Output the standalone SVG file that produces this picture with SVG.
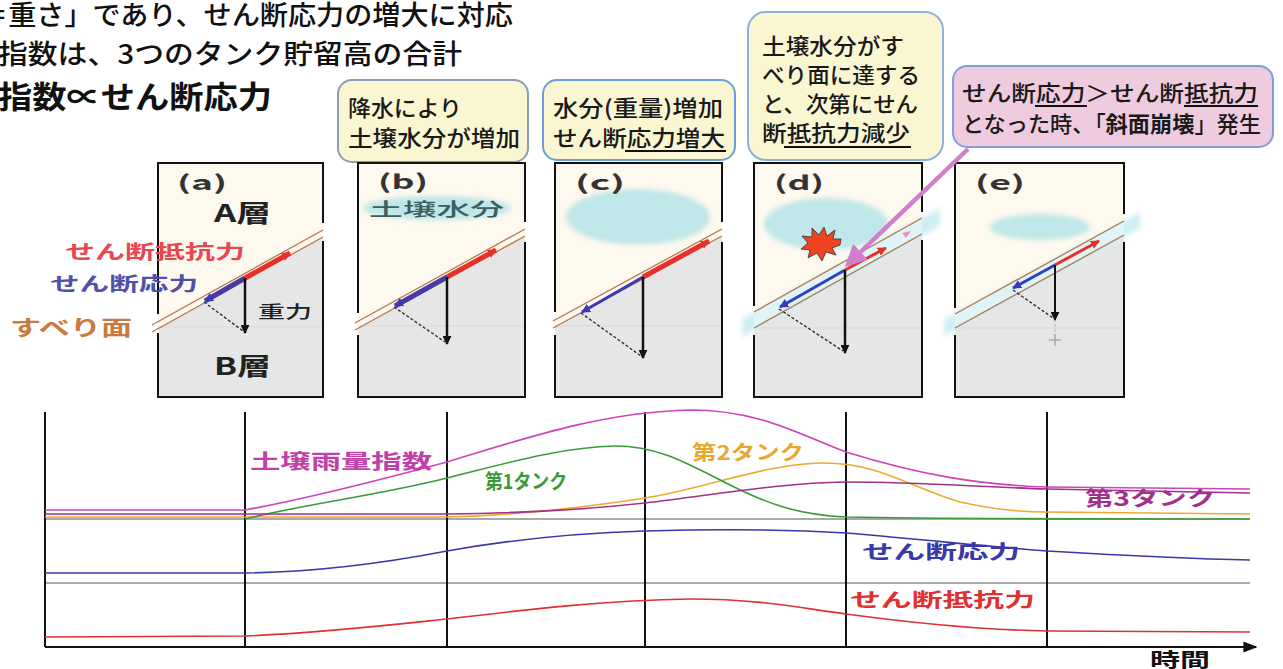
<svg xmlns="http://www.w3.org/2000/svg" width="1283" height="669" viewBox="0 0 1283 669">
  <defs>
    <style>
      .jp { font-family: "Noto Sans CJK JP", "Noto Sans CJK SC", sans-serif; }
      .head { font-size: 27px; fill: #111; font-weight: 500; }
      .call { font-size: 22px; fill: #1a1a1a; font-weight: 500; }
      .lbl { font-size: 19px; font-weight: bold; }
      .tag { font-size: 20px; font-weight: bold; fill: #333; }
      .box { stroke: #111; stroke-width: 2; fill: none; }
      .slip { stroke: #b4764c; stroke-width: 1.3; fill: none; }
      .cream { fill: #fdf9ef; }
      .rock { fill: #e6e6e6; }
      .water { fill: #bfe6e8; filter: url(#soft); }
      .grid { stroke: #111; stroke-width: 2; }
      .hline { stroke: #555; stroke-width: 1.2; }
      .curve { fill: none; stroke-width: 1.6; }
      .ul { stroke: #111; stroke-width: 2; }
    </style>
    <filter id="soft" x="-20%" y="-50%" width="140%" height="200%">
      <feGaussianBlur stdDeviation="2.5"/>
    </filter>
    <marker id="hr" viewBox="0 0 10 10" refX="9" refY="5" markerWidth="9" markerHeight="9" markerUnits="userSpaceOnUse" orient="auto">
      <path d="M0,0 L10,5 L0,10 z" fill="#e8302a"/>
    </marker>
    <marker id="hb" viewBox="0 0 10 10" refX="9" refY="5" markerWidth="9" markerHeight="9" markerUnits="userSpaceOnUse" orient="auto">
      <path d="M0,0 L10,5 L0,10 z" fill="#3a3ab8"/>
    </marker>
    <marker id="hk" viewBox="0 0 10 10" refX="9" refY="5" markerWidth="9" markerHeight="9" markerUnits="userSpaceOnUse" orient="auto">
      <path d="M0,0 L10,5 L0,10 z" fill="#111"/>
    </marker>
    <marker id="hp" viewBox="0 0 10 10" refX="8" refY="5" markerWidth="22" markerHeight="22" markerUnits="userSpaceOnUse" orient="auto">
      <path d="M0,0 L10,5 L0,10 z" fill="#d27fcb"/>
    </marker>
    <marker id="hx" viewBox="0 0 10 10" refX="9" refY="5" markerWidth="14" markerHeight="14" markerUnits="userSpaceOnUse" orient="auto">
      <path d="M0,1 L10,5 L0,9 z" fill="#111"/>
    </marker>
  </defs>

  <rect width="1283" height="669" fill="#fff"/>

  <!-- heading lines -->
  <g id="heading" class="jp">
    <text class="head" x="-20" y="25" textLength="533" lengthAdjust="spacingAndGlyphs">＝重さ」であり、せん断応力の増大に対応</text>
    <text class="head" x="-2" y="64" textLength="464" lengthAdjust="spacingAndGlyphs">指数は、3つのタンク貯留高の合計</text>
    <text x="-2" y="108" font-size="31" font-weight="bold" fill="#111" textLength="274" lengthAdjust="spacingAndGlyphs">指数∝せん断応力</text>
  </g>

  <!-- callouts -->
  <g id="note-b" class="jp">
    <rect x="338" y="80" width="190" height="82" rx="14" fill="#fbf6d2" stroke="#8d9cb2" stroke-width="2"/>
    <text class="call" x="348" y="116" textLength="114" lengthAdjust="spacingAndGlyphs">降水により</text>
    <text class="call" x="348" y="146" textLength="172" lengthAdjust="spacingAndGlyphs">土壌水分が増加</text>
  </g>
  <g id="note-c" class="jp">
    <rect x="543" y="80" width="192" height="80" rx="14" fill="#fbf6d2" stroke="#6f9ed6" stroke-width="2"/>
    <text class="call" x="553" y="116" textLength="170" lengthAdjust="spacingAndGlyphs">水分(重量)増加</text>
    <text class="call" x="553" y="146" textLength="172" lengthAdjust="spacingAndGlyphs">せん断応力増大</text>
    <line class="ul" x1="625" y1="151" x2="726" y2="151"/>
  </g>
  <g id="note-d" class="jp">
    <rect x="748" y="12" width="195" height="148" rx="18" fill="#fbf6d2" stroke="#8fb0da" stroke-width="2"/>
    <text class="call" x="762" y="54" textLength="142" lengthAdjust="spacingAndGlyphs">土壌水分がす</text>
    <text class="call" x="762" y="83" textLength="158" lengthAdjust="spacingAndGlyphs">べり面に達する</text>
    <text class="call" x="762" y="112" textLength="156" lengthAdjust="spacingAndGlyphs">と、次第にせん</text>
    <text class="call" x="762" y="141" textLength="148" lengthAdjust="spacingAndGlyphs">断抵抗力減少</text>
    <line class="ul" x1="784" y1="147" x2="911" y2="147"/>
  </g>
  <g id="note-e" class="jp">
    <rect x="953" y="66" width="320" height="81" rx="14" fill="#efcbe0" stroke="#7f9fd6" stroke-width="2"/>
    <text class="call" x="962" y="101" font-size="21" textLength="296" lengthAdjust="spacingAndGlyphs">せん断応力＞せん断抵抗力</text>
    <text class="call" x="962" y="132" font-size="21" textLength="299" lengthAdjust="spacingAndGlyphs">となった時、「<tspan font-weight="bold">斜面崩壊</tspan>」発生</text>
    <line class="ul" x1="1035" y1="106" x2="1087" y2="106"/>
    <line class="ul" x1="1184" y1="106" x2="1258" y2="106"/>
  </g>

  <!-- panel (a) -->
  <g id="panel-a">
    <rect class="cream" x="158" y="163" width="165" height="234"/>
    <polygon class="rock" points="158,329 323,237 323,397 158,397"/>
    <line x1="158" y1="327" x2="323" y2="327" stroke="#d9d9d9" stroke-width="1"/>
    <line class="slip" x1="152" y1="325" x2="323" y2="230"/>
    <line class="slip" x1="152" y1="332" x2="323" y2="237"/>
    <path class="box" d="M158,314 V163 H323 V223 M323,241 V397 H158 V333"/>
    <line x1="245" y1="278" x2="290" y2="253" stroke="#e8302a" stroke-width="5" marker-end="url(#hr)"/>
    <line x1="245" y1="278" x2="205" y2="301" stroke="#4a3aa8" stroke-width="5" marker-end="url(#hb)"/>
    <line x1="245" y1="278" x2="245" y2="333" stroke="#111" stroke-width="2.5" marker-end="url(#hk)"/>
    <line x1="204" y1="302" x2="243" y2="331" stroke="#333" stroke-width="1.4" stroke-dasharray="3,2"/>
    <g class="jp lbl">
      <text class="tag" x="177" y="190" textLength="50" lengthAdjust="spacingAndGlyphs">(a)</text>
      <text x="214" y="222" font-size="24" fill="#222" textLength="57" lengthAdjust="spacingAndGlyphs">A層</text>
      <text x="214" y="375" font-size="24" fill="#222" textLength="57" lengthAdjust="spacingAndGlyphs">B層</text>
      <text x="65" y="259" fill="#e8474f" textLength="180" lengthAdjust="spacingAndGlyphs">せん断抵抗力</text>
      <text x="50" y="291" fill="#5050a8" textLength="148" lengthAdjust="spacingAndGlyphs">せん断応力</text>
      <text x="258" y="318" font-size="17" font-weight="500" fill="#222" textLength="54" lengthAdjust="spacingAndGlyphs">重力</text>
      <text x="10" y="335" font-size="21" fill="#c87a40" textLength="122" lengthAdjust="spacingAndGlyphs">すべり面</text>
    </g>
  </g>

  <!-- panel (b) -->
  <g id="panel-b">
    <rect class="cream" x="358" y="163" width="167" height="234"/>
    <polygon class="rock" points="358,328 525,236 525,397 358,397"/>
    <line x1="358" y1="326" x2="525" y2="326" stroke="#d9d9d9" stroke-width="1"/>
    <line class="slip" x1="355" y1="323" x2="525" y2="229"/>
    <line class="slip" x1="355" y1="330" x2="525" y2="236"/>
    <path class="box" d="M358,313 V163 H525 V222 M525,242 V397 H358 V335"/>
    <ellipse class="water" cx="437" cy="208" rx="74" ry="12"/>
    <line x1="447" y1="277" x2="496" y2="250" stroke="#e8302a" stroke-width="5" marker-end="url(#hr)"/>
    <line x1="447" y1="277" x2="395" y2="306" stroke="#4a3aa8" stroke-width="5" marker-end="url(#hb)"/>
    <line x1="447" y1="277" x2="447" y2="344" stroke="#111" stroke-width="2.5" marker-end="url(#hk)"/>
    <line x1="394" y1="307" x2="445" y2="342" stroke="#333" stroke-width="1.4" stroke-dasharray="3,2"/>
    <g class="jp lbl">
      <text class="tag" x="378" y="189" textLength="50" lengthAdjust="spacingAndGlyphs">(b)</text>
      <text x="369" y="216" font-size="18" font-weight="500" fill="#3a5f60" textLength="135" lengthAdjust="spacingAndGlyphs">土壌水分</text>
    </g>
  </g>

  <!-- panel (c) -->
  <g id="panel-c">
    <rect class="cream" x="555" y="163" width="167" height="234"/>
    <polygon class="rock" points="555,327 722,236 722,397 555,397"/>
    <line x1="555" y1="326" x2="722" y2="326" stroke="#d9d9d9" stroke-width="1"/>
    <line class="slip" x1="553" y1="321" x2="722" y2="229"/>
    <line class="slip" x1="553" y1="328" x2="722" y2="236"/>
    <path class="box" d="M555,312 V163 H722 V222 M722,242 V397 H555 V335"/>
    <ellipse class="water" cx="638" cy="217" rx="72" ry="28"/>
    <line x1="643" y1="277" x2="709" y2="241" stroke="#e8302a" stroke-width="5" marker-end="url(#hr)"/>
    <line x1="643" y1="277" x2="582" y2="312" stroke="#3a3ab8" stroke-width="3" marker-end="url(#hb)"/>
    <line x1="643" y1="277" x2="643" y2="358" stroke="#111" stroke-width="2.5" marker-end="url(#hk)"/>
    <line x1="581" y1="313" x2="641" y2="356" stroke="#333" stroke-width="1.4" stroke-dasharray="3,2"/>
    <text class="jp tag" x="575" y="190" textLength="50" lengthAdjust="spacingAndGlyphs">(c)</text>
  </g>

  <!-- panel (d) -->
  <g id="panel-d">
    <rect class="cream" x="754" y="163" width="168" height="234"/>
    <polygon class="rock" points="754,328 922,234 922,397 754,397"/>
    <line x1="754" y1="328" x2="922" y2="328" stroke="#d9d9d9" stroke-width="1"/>
    <polygon points="742,319 940,208 940,226 742,337" fill="#cdeef4" filter="url(#soft)"/>
    <polygon points="754,312 922,218 922,234 754,328" fill="#dff4f7"/>
    <line class="slip" x1="754" y1="312" x2="922" y2="218"/>
    <line class="slip" x1="754" y1="328" x2="922" y2="234"/>
    <path class="box" d="M754,306 V163 H922 V212 M922,240 V397 H754 V335"/>
    <ellipse class="water" cx="826" cy="224" rx="62" ry="26"/>
    <polygon points="840,245 832,248 836,255 826,252 822,261 817,253 808,258 810,250 801,249 808,243 802,236 812,237 812,228 819,235 824,227 827,236 835,230 833,239 841,239" fill="#ee4422" stroke="#333" stroke-width="0.8"/>
    <path d="M902,233 L911,231 L906,238 z" fill="#f090c8"/>
    <line x1="845" y1="270" x2="886" y2="248" stroke="#e8302a" stroke-width="3" marker-end="url(#hr)"/>
    <line x1="845" y1="270" x2="780" y2="307" stroke="#2f3fc0" stroke-width="3" marker-end="url(#hb)"/>
    <line x1="845" y1="270" x2="845" y2="353" stroke="#111" stroke-width="2.5" marker-end="url(#hk)"/>
    <line x1="779" y1="309" x2="843" y2="351" stroke="#333" stroke-width="1.4" stroke-dasharray="3,2"/>
    <text class="jp tag" x="774" y="190" textLength="50" lengthAdjust="spacingAndGlyphs">(d)</text>
  </g>

  <!-- panel (e) -->
  <g id="panel-e">
    <rect class="cream" x="955" y="163" width="169" height="234"/>
    <polygon class="rock" points="955,328 1124,235 1124,397 955,397"/>
    <line x1="955" y1="328" x2="1124" y2="328" stroke="#d9d9d9" stroke-width="1"/>
    <polygon points="944,320 1140,212 1140,228 944,336" fill="#cdeef4" filter="url(#soft)"/>
    <polygon points="955,314 1124,221 1124,235 955,328" fill="#dff4f7"/>
    <line class="slip" x1="955" y1="314" x2="1124" y2="221"/>
    <line class="slip" x1="955" y1="328" x2="1124" y2="235"/>
    <path class="box" d="M955,308 V163 H1124 V214 M1124,242 V397 H955 V335"/>
    <ellipse class="water" cx="1040" cy="227" rx="50" ry="13"/>
    <line x1="1055" y1="342" x2="1055" y2="318" stroke="#bbb" stroke-width="1.2" stroke-dasharray="3,2"/>
    <line x1="1049" y1="340" x2="1061" y2="340" stroke="#aaa" stroke-width="1.5"/>
    <line x1="1055" y1="334" x2="1055" y2="346" stroke="#aaa" stroke-width="1.5"/>
    <line x1="1055" y1="265" x2="1099" y2="241" stroke="#e8302a" stroke-width="3" marker-end="url(#hr)"/>
    <line x1="1055" y1="265" x2="1013" y2="288" stroke="#2f3fc0" stroke-width="3" marker-end="url(#hb)"/>
    <line x1="1055" y1="265" x2="1055" y2="320" stroke="#111" stroke-width="2" marker-end="url(#hk)"/>
    <line x1="1013" y1="290" x2="1053" y2="318" stroke="#333" stroke-width="1.4" stroke-dasharray="3,2"/>
    <text class="jp tag" x="975" y="190" textLength="50" lengthAdjust="spacingAndGlyphs">(e)</text>
  </g>

  <!-- pointer from the failure note into panel (d) -->
  <g id="connectors">
    <line x1="968" y1="149" x2="848" y2="264" stroke="#d27fcb" stroke-width="4.5" marker-end="url(#hp)"/>
  </g>

  <!-- time chart -->
  <g id="chart">
    <line class="hline" x1="45" y1="519" x2="1250" y2="519"/>
    <line class="hline" x1="45" y1="583" x2="1250" y2="583"/>
    <line x1="45" y1="647" x2="1256" y2="647" stroke="#111" stroke-width="2" marker-end="url(#hx)"/>
    <g class="grid">
      <line x1="45" y1="412" x2="45" y2="647"/>
      <line x1="245" y1="412" x2="245" y2="647"/>
      <line x1="447" y1="412" x2="447" y2="647"/>
      <line x1="645" y1="412" x2="645" y2="647"/>
      <line x1="846" y1="412" x2="846" y2="647"/>
      <line x1="1047" y1="412" x2="1047" y2="647"/>
    </g>
    <path class="curve" stroke="#f0a830" d="M45,517 L447,517 C530,515 600,505 645,498 C700,490 760,465 820,463 C880,462 910,488 960,502 C1000,511 1030,512 1047,512 L1250,514"/>
    <path class="curve" stroke="#3a9a3a" d="M245,519 C300,505 380,495 447,478 C500,465 560,447 615,446 C660,446 690,465 730,485 C770,505 800,515 846,517 C950,519 1100,519 1250,519"/>
    <path class="curve" stroke="#a0308a" stroke-width="1.3" d="M45,514 L447,514 C540,513 600,508 645,503 C720,494 780,483 846,482 C920,482 980,487 1047,489 C1150,491 1200,492 1250,493"/>
    <path class="curve" stroke="#cc44b8" stroke-width="2" d="M45,510 L245,510 C300,500 380,480 447,462 C520,440 600,412 690,410 C760,410 800,435 846,452 C920,475 980,485 1047,487 L1250,489"/>
    <path class="curve" stroke="#3838a8" d="M45,573 L245,573 C320,572 390,562 447,551 C520,538 580,533 645,531 C720,529 780,529 846,533 C930,540 990,547 1047,551 C1150,557 1200,559 1250,560"/>
    <path class="curve" stroke="#e03030" d="M45,637 L245,636 C320,633 390,625 447,619 C530,609 610,600 690,599 C760,599 800,608 846,614 C920,624 990,630 1047,631 L1250,632"/>
    <g class="jp lbl">
      <text x="250" y="469" font-size="20" fill="#c040a8" textLength="182" lengthAdjust="spacingAndGlyphs">土壌雨量指数</text>
      <text x="485" y="489" font-size="20" fill="#3a9a3a" textLength="82" lengthAdjust="spacingAndGlyphs">第1タンク</text>
      <text x="692" y="460" font-size="20" fill="#e8a830" textLength="112" lengthAdjust="spacingAndGlyphs">第2タンク</text>
      <text x="1085" y="506" font-size="20" fill="#a0308a" textLength="130" lengthAdjust="spacingAndGlyphs">第3タンク</text>
      <text x="862" y="559" font-size="19" fill="#3838a8" textLength="158" lengthAdjust="spacingAndGlyphs">せん断応力</text>
      <text x="850" y="607" font-size="19" fill="#e03030" textLength="185" lengthAdjust="spacingAndGlyphs">せん断抵抗力</text>
      <text x="1150" y="667" font-size="19" fill="#111" textLength="60" lengthAdjust="spacingAndGlyphs">時間</text>
    </g>
  </g>
</svg>
